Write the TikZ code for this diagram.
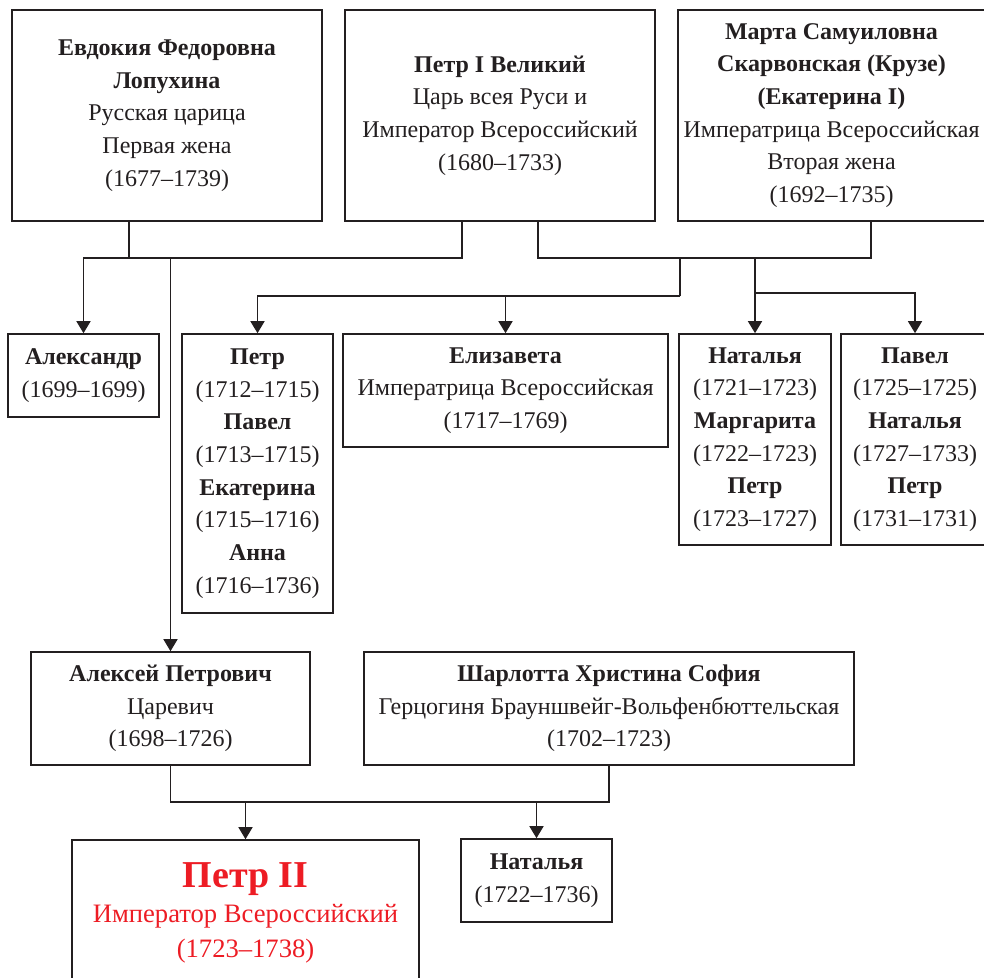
\documentclass[tikz,border=0pt]{standalone}
\usepackage{fontspec}
\setmainfont{Liberation Serif}
\usetikzlibrary{arrows.meta}
\definecolor{ink}{HTML}{231F20}
\definecolor{tsarred}{HTML}{ED1C24}
\begin{document}
\begin{tikzpicture}[x=0.5pt, y=-0.5pt,
    box/.style={draw=ink, line width=0.8pt, align=center, inner sep=0pt, text=ink,
        font=\fontsize{12}{16.35}\selectfont},
    link/.style={draw=ink, line width=0.75pt},
    arr/.style={link, -{Triangle[length=6pt, width=7pt]}}]
    \useasboundingbox (0,0) rectangle (984,978);

    % First generation
    \node[box, minimum width=155pt, minimum height=105.5pt] (evdokia) at (167,115.5)
        {\textbf{Евдокия Федоровна}\\\textbf{Лопухина}\\Русская царица\\Первая жена\\(1677–1739)};
    \node[box, minimum width=155pt, minimum height=105.5pt] (petr) at (500,115.5)
        {\textbf{Петр I Великий}\\Царь всея Руси и\\Император Всероссийский\\(1680–1733)};
    \node[box, minimum width=153.5pt, minimum height=105.5pt] (marta) at (831.5,115.5)
        {\textbf{Марта Самуиловна}\\\textbf{Скарвонская (Крузе)}\\\textbf{(Екатерина I)}\\Императрица Всероссийская\\Вторая жена\\(1692–1735)};

    % Children
    \node[box, minimum width=75.5pt, minimum height=41.5pt] (aleksandr) at (83.5,375.5)
        {\textbf{Александр}\\(1699–1699)};
    \node[box, minimum width=75.5pt, minimum height=139.5pt] (early) at (257.5,473.5)
        {\textbf{Петр}\\(1712–1715)\\\textbf{Павел}\\(1713–1715)\\\textbf{Екатерина}\\(1715–1716)\\\textbf{Анна}\\(1716–1736)};
    \node[box, minimum width=162.5pt, minimum height=56.5pt] (elizaveta) at (505.5,390.5)
        {\textbf{Елизавета}\\Императрица Всероссийская\\(1717–1769)};
    \node[box, minimum width=76pt, minimum height=105.5pt] (middle) at (755,439.5)
        {\textbf{Наталья}\\(1721–1723)\\\textbf{Маргарита}\\(1722–1723)\\\textbf{Петр}\\(1723–1727)};
    \node[box, minimum width=74pt, minimum height=105.5pt] (late) at (915,439.5)
        {\textbf{Павел}\\(1725–1725)\\\textbf{Наталья}\\(1727–1733)\\\textbf{Петр}\\(1731–1731)};

    % Alexei and his wife
    \node[box, minimum width=139.5pt, minimum height=56.5pt] (aleksei) at (170.5,708.5)
        {\textbf{Алексей Петрович}\\Царевич\\(1698–1726)};
    \node[box, minimum width=245pt, minimum height=56.5pt] (sharlotta) at (609,708.5)
        {\textbf{Шарлотта Христина София}\\Герцогиня Брауншвейг-Вольфенбюттельская\\(1702–1723)};

    % Grandchildren
    \node[box, text=tsarred, font=\fontsize{13.3}{17.5}\selectfont,
        minimum width=173.5pt, minimum height=72.5pt] (petr2) at (245.5,912.5)
        {{\fontsize{19}{19}\selectfont\textbf{Петр II}}\\Император Всероссийский\\(1723–1738)};
    \node[box, minimum width=75.5pt, minimum height=41.5pt] (natalya) at (536.5,880.5)
        {\textbf{Наталья}\\(1722–1736)};

    % Junction points
    \coordinate (m1) at (129,258);
    \coordinate (m2) at (680,258);
    \coordinate (m3) at (755,258);
    \coordinate (m4) at (680,296);
    \coordinate (m5) at (245.5,802);
    \coordinate (m6) at (536.5,802);

    % First marriage
    \draw[link] ([xshift=-19pt]evdokia.south) |- (m1) -| ([xshift=-19pt]petr.south);
    \draw[arr] (m1) -| (aleksandr.north);
    \draw[arr] (m1) -| (aleksei.north);

    % Second marriage
    \draw[link] ([xshift=19pt]petr.south) |- (m2) -| ([xshift=19.75pt]marta.south);
    \draw[link] (m2) -- (m4);
    \draw[arr] (m4) -| (early.north);
    \draw[arr] (m4) -| (elizaveta.north);
    \draw[arr] (m3) -- (middle.north);
    \draw[arr] ([yshift=-17.5pt]m3) -| (late.north);

    % Alexei's marriage
    \draw[link] (aleksei.south) |- (m5) -| (sharlotta.south);
    \draw[arr] (m5) -- (petr2.north);
    \draw[arr] (m6) -- (natalya.north);
\end{tikzpicture}
\end{document}
